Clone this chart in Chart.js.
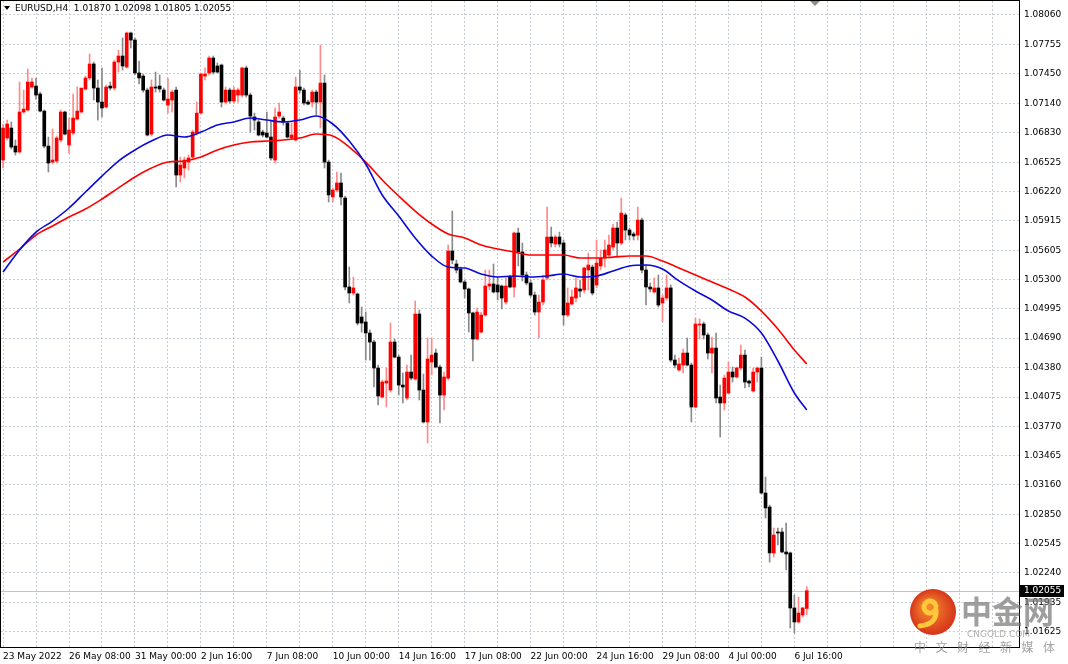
<!DOCTYPE html>
<html>
<head>
<meta charset="utf-8">
<title>EURUSD,H4</title>
<script src="https://cdn.jsdelivr.net/npm/chart.js@4.4.1/dist/chart.umd.min.js"></script>
<style>
  html, body { margin: 0; padding: 0; background: #fff; }
  #wrap { width: 1068px; height: 664px; }
</style>
</head>
<body>
<div id="wrap"><canvas id="chart" width="1068" height="664"></canvas></div>
<script>
// EURUSD H4 candles, 23 May 2022 16:00 -> 7 Jul 04:00
const chartTitle = 'EURUSD,H4  1.01870 1.02098 1.01805 1.02055';

const openP = [
  1.06547,1.06777,1.06881,1.06693,1.06631,1.07048,1.07069,1.07309,1.07319,1.07236,
  1.07058,1.06693,1.06526,1.06537,1.06756,1.07048,1.06704,1.06829,1.06975,1.07048,
  1.07288,1.07403,1.07549,1.07298,1.07152,1.07100,1.07319,1.07298,1.07569,1.07632,
  1.07517,1.07872,1.07799,1.07455,1.07423,1.07277,1.06818,1.07309,1.07319,1.07277,
  1.07121,1.07173,1.07277,1.06391,1.06464,1.06526,1.06578,1.06829,1.07037,1.07423,
  1.07455,1.07611,1.07528,1.07538,1.07152,1.07277,1.07163,1.07225,1.07225,1.07507,
  1.07225,1.06996,1.06944,1.06839,1.06829,1.06787,1.06547,1.07006,1.06985,1.06933,
  1.06777,1.06756,1.07309,1.07277,1.07152,1.07152,1.07256,1.07152,1.07350,1.06526,
  1.06162,1.06235,1.06308,1.06151,1.05223,1.05160,1.05150,1.04910,1.04858,1.04743,
  1.04649,1.04378,1.04075,1.04221,1.04148,1.04649,1.04492,1.04200,1.04065,1.04336,
  1.04263,1.04941,1.04148,1.03815,1.04440,1.04534,1.04388,1.04096,1.04273,1.05598,
  1.05463,1.05410,1.05275,1.05202,1.04952,1.04680,1.04753,1.04931,1.05233,1.05254,
  1.05244,1.05233,1.05066,1.05327,1.05223,1.05786,1.05588,1.05348,1.05265,1.05139,
  1.04962,1.05066,1.05317,1.05744,1.05671,1.05744,1.05682,1.04931,1.05045,1.05108,
  1.05202,1.05192,1.05400,1.05431,1.05244,1.05442,1.05525,1.05556,1.05640,1.05838,
  1.05682,1.05974,1.05817,1.05776,1.05765,1.05921,1.05400,1.05223,1.05171,1.05213,
  1.05056,1.05108,1.05213,1.04461,1.04357,1.04409,1.04534,1.04409,1.03971,1.04826,
  1.04837,1.04722,1.04534,1.04586,1.04075,1.04013,1.04117,1.04336,1.04284,1.04378,
  1.04513,1.04242,1.04138,1.04336,1.04378,1.03074,1.02928,1.02449,1.02667,1.02667,
  1.02459,1.02449,1.01875,1.01729,1.01802,1.01870
];

const highP = [
  1.06923,1.06964,1.06944,1.06756,1.07361,1.07277,1.07496,1.07403,1.07403,1.07256,
  1.07069,1.06787,1.06871,1.06798,1.07069,1.07058,1.06985,1.07236,1.07309,1.07173,
  1.07423,1.07653,1.07569,1.07382,1.07507,1.07330,1.07361,1.07590,1.07694,1.07820,
  1.07882,1.07882,1.07820,1.07580,1.07444,1.07298,1.07382,1.07465,1.07434,1.07298,
  1.07403,1.07277,1.07309,1.06578,1.06578,1.06599,1.06860,1.07152,1.07455,1.07507,
  1.07632,1.07632,1.07559,1.07549,1.07309,1.07298,1.07309,1.07298,1.07517,1.07528,
  1.07246,1.07037,1.06964,1.06860,1.07048,1.06964,1.07090,1.07142,1.07006,1.06944,
  1.06933,1.07413,1.07486,1.07298,1.07173,1.07277,1.07277,1.07747,1.07434,1.06547,
  1.06256,1.06422,1.06412,1.06172,1.05431,1.05327,1.05160,1.05014,1.04962,1.04774,
  1.04670,1.04409,1.04253,1.04378,1.04847,1.04680,1.04513,1.04326,1.04409,1.04513,
  1.05077,1.04983,1.04315,1.04691,1.04691,1.04576,1.04409,1.04336,1.05661,1.06015,
  1.05504,1.05431,1.05296,1.05213,1.04962,1.05004,1.04962,1.05400,1.05400,1.05463,
  1.05327,1.05244,1.05317,1.05348,1.05796,1.05838,1.05682,1.05379,1.05296,1.05171,
  1.05139,1.05348,1.06057,1.05848,1.05765,1.05796,1.05713,1.05213,1.05192,1.05317,
  1.05296,1.05431,1.05577,1.05452,1.05713,1.05609,1.05713,1.05765,1.05880,1.05901,
  1.06151,1.05994,1.05838,1.05796,1.06057,1.05942,1.05452,1.05265,1.05317,1.05348,
  1.05139,1.05348,1.05244,1.04513,1.04482,1.04576,1.04691,1.04430,1.04899,1.04889,
  1.04858,1.04743,1.04701,1.04743,1.04200,1.04305,1.04440,1.04388,1.04388,1.04618,
  1.04566,1.04253,1.04378,1.04388,1.04492,1.03241,1.02949,1.02709,1.02709,1.02709,
  1.02761,1.02459,1.02010,1.01989,1.01885,1.02098
];

const lowP = [
  1.06464,1.06756,1.06662,1.06599,1.06620,1.07037,1.07058,1.07298,1.07183,1.07048,
  1.06672,1.06422,1.06506,1.06516,1.06735,1.06808,1.06620,1.06808,1.06964,1.07037,
  1.07277,1.07382,1.07173,1.06964,1.06996,1.07090,1.07277,1.07277,1.07465,1.07486,
  1.07507,1.07715,1.07434,1.07340,1.07256,1.06798,1.06798,1.07256,1.07256,1.07163,
  1.07037,1.07048,1.06266,1.06318,1.06360,1.06443,1.06547,1.06808,1.07027,1.07382,
  1.07434,1.07444,1.07455,1.07100,1.07131,1.07142,1.07142,1.07152,1.07204,1.07204,
  1.06839,1.06860,1.06798,1.06787,1.06777,1.06547,1.06516,1.06985,1.06912,1.06777,
  1.06766,1.06745,1.07246,1.07121,1.07121,1.07100,1.07017,1.06881,1.06464,1.06110,
  1.06110,1.06214,1.06078,1.05192,1.05056,1.05139,1.04826,1.04753,1.04461,1.04461,
  1.04180,1.03992,1.04065,1.03971,1.04127,1.04482,1.04096,1.04013,1.04044,1.04253,
  1.04253,1.04044,1.03804,1.03596,1.04305,1.04378,1.03804,1.03940,1.04253,1.05463,
  1.05369,1.05265,1.05108,1.04753,1.04451,1.04670,1.04743,1.04920,1.05192,1.05160,
  1.05087,1.04993,1.05045,1.05213,1.05119,1.05442,1.05286,1.05244,1.05119,1.04931,
  1.04691,1.05035,1.05296,1.05640,1.05640,1.05640,1.04826,1.04910,1.05035,1.05066,
  1.05119,1.05160,1.05192,1.05139,1.05213,1.05400,1.05431,1.05525,1.05609,1.05535,
  1.05661,1.05713,1.05713,1.05713,1.05713,1.05369,1.05035,1.05171,1.05160,1.05014,
  1.04858,1.05087,1.04440,1.04378,1.04346,1.04326,1.04399,1.03815,1.03961,1.04680,
  1.04680,1.04472,1.04326,1.04013,1.03658,1.03940,1.04107,1.04232,1.04273,1.04357,
  1.04169,1.04180,1.04127,1.04232,1.03064,1.02813,1.02354,1.02407,1.02532,1.02449,
  1.02271,1.01666,1.01614,1.01718,1.01781,1.01805
];

const closeP = [
  1.06881,1.06923,1.06683,1.06631,1.07048,1.07079,1.07361,1.07361,1.07225,1.07058,
  1.06693,1.06516,1.06547,1.06777,1.07048,1.06818,1.06860,1.06985,1.07058,1.07298,
  1.07403,1.07549,1.07298,1.07152,1.07090,1.07309,1.07298,1.07569,1.07632,1.07528,
  1.07872,1.07799,1.07455,1.07403,1.07277,1.06808,1.07309,1.07298,1.07288,1.07173,
  1.07183,1.07256,1.06391,1.06495,1.06547,1.06568,1.06839,1.07037,1.07444,1.07444,
  1.07611,1.07465,1.07465,1.07152,1.07277,1.07163,1.07277,1.07277,1.07507,1.07225,
  1.07006,1.06964,1.06808,1.06808,1.06787,1.06568,1.06996,1.07048,1.06944,1.06787,
  1.06808,1.07309,1.07277,1.07142,1.07131,1.07256,1.07152,1.07350,1.06526,1.06183,
  1.06235,1.06308,1.06162,1.05223,1.05160,1.05213,1.04847,1.04847,1.04743,1.04649,
  1.04378,1.04086,1.04232,1.04242,1.04649,1.04492,1.04200,1.04180,1.04336,1.04273,
  1.04941,1.04148,1.03815,1.04472,1.04513,1.04388,1.04096,1.04284,1.05598,1.05504,
  1.05400,1.05275,1.05202,1.04952,1.04680,1.04962,1.04931,1.05233,1.05254,1.05171,
  1.05171,1.05108,1.05233,1.05223,1.05786,1.05588,1.05348,1.05265,1.05139,1.04962,
  1.05066,1.05296,1.05744,1.05682,1.05744,1.05671,1.04931,1.05056,1.05119,1.05213,
  1.05181,1.05421,1.05452,1.05160,1.05473,1.05525,1.05609,1.05661,1.05838,1.05682,
  1.05994,1.05817,1.05765,1.05755,1.05921,1.05400,1.05223,1.05202,1.05213,1.05035,
  1.05108,1.05213,1.04461,1.04409,1.04420,1.04534,1.04409,1.03971,1.04837,1.04837,
  1.04722,1.04534,1.04586,1.04065,1.04013,1.04273,1.04336,1.04284,1.04378,1.04513,
  1.04232,1.04221,1.04336,1.04378,1.03074,1.02918,1.02449,1.02636,1.02657,1.02459,
  1.02438,1.01875,1.01729,1.01822,1.01875,1.02055
];

// moving averages, every 4th bar
const maIdx = [
  0,4,8,12,16,20,24,28,32,36,40,44,48,52,56,60,64,68,72,76,80,84,88,92,96,
  100,104,108,112,116,120,124,128,132,136,140,144,148,152,156,160,164,168,172,176,180,184,188,192,195
];
const maBlue = [
  1.05379,1.05609,1.05796,1.05911,1.06047,1.06214,1.06380,1.06537,1.06652,1.06745,
  1.06808,1.06787,1.06839,1.06912,1.06944,1.06985,1.06964,1.06944,1.06964,1.07006,
  1.06923,1.06745,1.06506,1.06183,1.05963,1.05734,1.05546,1.05431,1.05421,1.05358,
  1.05327,1.05337,1.05327,1.05337,1.05358,1.05327,1.05337,1.05390,1.05442,1.05452,
  1.05410,1.05286,1.05181,1.05087,1.04972,1.04899,1.04743,1.04451,1.04117,1.03940
];
const maRed = [
  1.05483,1.05619,1.05765,1.05859,1.05953,1.06036,1.06141,1.06256,1.06370,1.06464,
  1.06526,1.06537,1.06578,1.06652,1.06704,1.06735,1.06745,1.06756,1.06777,1.06818,
  1.06798,1.06683,1.06526,1.06339,1.06172,1.06015,1.05880,1.05776,1.05734,1.05661,
  1.05619,1.05588,1.05556,1.05556,1.05556,1.05525,1.05525,1.05535,1.05546,1.05546,
  1.05494,1.05421,1.05348,1.05275,1.05202,1.05119,1.04972,1.04785,1.04566,1.04420
];

// one label every 16 bars
const timeLabels = [
  '23 May 2022','26 May 08:00','31 May 00:00','2 Jun 16:00','7 Jun 08:00','10 Jun 00:00',
  '14 Jun 16:00','17 Jun 08:00','22 Jun 00:00','24 Jun 16:00','29 Jun 08:00','4 Jul 00:00','6 Jul 16:00'
];
const priceTicks = [
  1.08060,1.07755,1.07450,1.07140,1.06830,1.06525,1.06220,1.05915,1.05605,1.05300,1.04995,
  1.04690,1.04380,1.04075,1.03770,1.03465,1.03160,1.02850,1.02545,1.02240,1.01935,1.01625
];

const slotCount = 247;
const gridColor = '#c9ced6';
const axisFont = { family: 'DejaVu Sans', size: 9 };

const slots = Array.from({ length: slotCount }, (_, i) => i);
const isBull = openP.map((o, i) => closeP[i] >= o);

const bodyData = openP.map((o, i) => [o, closeP[i]]);
const wickData = lowP.map((l, i) => [l, highP[i]]);
const blueData = maIdx.map((b, k) => ({ x: b, y: maBlue[k] }));
const redData = maIdx.map((b, k) => ({ x: b, y: maRed[k] }));

// extra drawing: bid line, frame, title, watermark
const chartDecor = {
  id: 'chartDecor',
  beforeDatasetsDraw(chart) {
    const { ctx, chartArea: a } = chart;
    const py = Math.round(chart.scales.y.getPixelForValue(closeP[closeP.length - 1])) + 0.5;
    ctx.save();
    ctx.strokeStyle = '#c2c6cc';
    ctx.lineWidth = 1;
    ctx.beginPath();
    ctx.moveTo(a.left, py);
    ctx.lineTo(a.right, py);
    ctx.stroke();
    ctx.restore();
  },
  afterDraw(chart) {
    const { ctx, chartArea: a } = chart;
    ctx.save();

    // frame
    ctx.strokeStyle = '#000';
    ctx.lineWidth = 1;
    ctx.strokeRect(a.left - 0.5, a.top - 0.5, a.right - a.left + 1, a.bottom - a.top + 1);

    // title
    ctx.fillStyle = '#000';
    ctx.beginPath();
    ctx.moveTo(4, 6); ctx.lineTo(10, 6); ctx.lineTo(7, 10);
    ctx.closePath();
    ctx.fill();
    ctx.font = '9px "DejaVu Sans"';
    ctx.textBaseline = 'middle';
    ctx.fillText(chartTitle, 15, 9);

    // chart shift marker
    ctx.fillStyle = '#8e8e8e';
    ctx.beginPath();
    ctx.moveTo(810, 1); ctx.lineTo(820, 1); ctx.lineTo(815, 6);
    ctx.closePath();
    ctx.fill();

    // watermark
    const cx = 933, cy = 612;
    const g = ctx.createRadialGradient(cx - 6, cy - 6, 3, cx, cy, 23);
    g.addColorStop(0, '#f58a2c');
    g.addColorStop(1, '#d6341b');
    ctx.fillStyle = g;
    ctx.beginPath();
    ctx.arc(cx, cy, 23, 0, Math.PI * 2);
    ctx.fill();
    ctx.strokeStyle = '#ffc83a';
    ctx.lineCap = 'round';
    ctx.lineWidth = 5;
    ctx.beginPath();
    ctx.arc(cx - 3, cy - 5, 6, Math.PI * 0.2, Math.PI * 1.95);
    ctx.stroke();
    ctx.beginPath();
    ctx.moveTo(cx + 3, cy - 2);
    ctx.quadraticCurveTo(cx + 4, cy + 12, cx - 13, cy + 14);
    ctx.stroke();

    ctx.fillStyle = 'rgba(120,120,120,0.72)';
    ctx.font = 'bold 31px "Noto Sans CJK SC"';
    ctx.textBaseline = 'alphabetic';
    ctx.fillText('中金网', 961, 623);
    ctx.fillStyle = 'rgba(150,150,150,0.75)';
    ctx.font = '9px "DejaVu Sans"';
    ctx.fillText('CNGOLD.COM', 967, 637);
    ctx.fillStyle = 'rgba(140,140,140,0.8)';
    ctx.font = '12px "Noto Sans CJK SC"';
    '中文财经新媒体'.split('').forEach((ch, k) => ctx.fillText(ch, 914 + k * 21.5, 652));

    // bid price label
    const py = Math.round(chart.scales.y.getPixelForValue(closeP[closeP.length - 1]));
    ctx.fillStyle = '#000';
    ctx.fillRect(a.right + 1, py - 6, 44, 12);
    ctx.fillStyle = '#fff';
    ctx.font = '9px "DejaVu Sans"';
    ctx.textBaseline = 'middle';
    ctx.fillText(closeP[closeP.length - 1].toFixed(5), a.right + 5, py);

    ctx.restore();
  }
};

new Chart(document.getElementById('chart'), {
  type: 'bar',
  data: {
    labels: slots,
    datasets: [{
      type: 'line',
      data: blueData,
      borderColor: '#0a0ad6',
      borderWidth: 1.6,
      pointRadius: 0,
      cubicInterpolationMode: 'monotone',
      order: 0
    }, {
      type: 'line',
      data: redData,
      borderColor: '#ff0000',
      borderWidth: 1.6,
      pointRadius: 0,
      cubicInterpolationMode: 'monotone',
      order: 1
    }, {
      data: bodyData,
      backgroundColor: isBull.map(b => b ? '#ff0000' : '#000000'),
      barThickness: 3,
      minBarLength: 1,
      grouped: false,
      order: 2
    }, {
      data: wickData,
      backgroundColor: isBull.map(b => b ? '#ff8a8a' : '#8a8a8a'),
      barThickness: 1,
      grouped: false,
      order: 3
    }]
  },
  options: {
    responsive: false,
    animation: false,
    layout: { padding: { left: 1, top: 1, right: 0, bottom: 0 } },
    plugins: {
      legend: { display: false },
      tooltip: { enabled: false }
    },
    scales: {
      x: {
        type: 'category',
        offset: true,
        grid: {
          offset: false,
          drawTicks: false,
          color: ctx => ctx.index % 8 === 0 ? gridColor : 'rgba(0,0,0,0)'
        },
        border: { display: false, dash: [2, 2] },
        ticks: {
          autoSkip: false,
          maxRotation: 0,
          minRotation: 0,
          align: 'start',
          padding: 4,
          color: '#000',
          font: axisFont,
          callback: (v, i) => (i % 16 === 0 && timeLabels[i / 16]) ? timeLabels[i / 16] : ''
        },
        afterFit: s => {
          s.height = 17;
          s.paddingLeft = 0;
          s.paddingRight = 0;
        }
      },
      y: {
        type: 'linear',
        position: 'right',
        min: 1.01468,
        max: 1.08206,
        grid: { color: gridColor, drawTicks: false },
        border: { display: false, dash: [2, 2] },
        ticks: {
          padding: 5,
          color: '#000',
          font: axisFont,
          callback: v => v.toFixed(5)
        },
        afterBuildTicks: s => { s.ticks = priceTicks.map(v => ({ value: v })); },
        afterFit: s => {
          s.width = 49;
          s.paddingTop = 0;
          s.paddingBottom = 0;
        }
      }
    }
  },
  plugins: [chartDecor]
});
</script>
</body>
</html>
